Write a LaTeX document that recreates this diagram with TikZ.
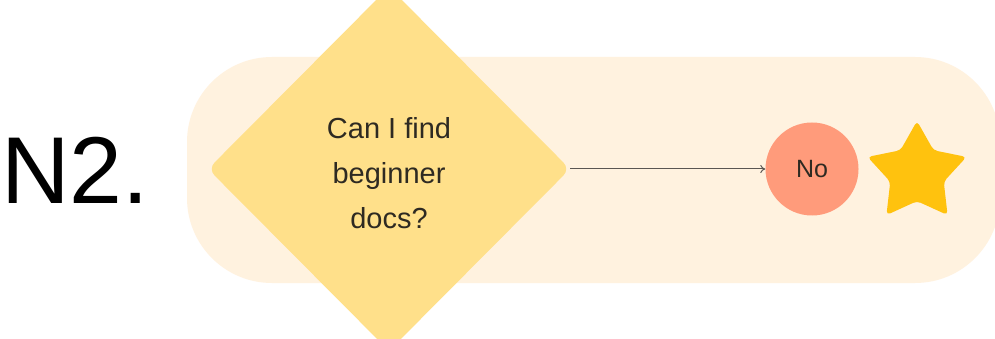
\documentclass[tikz,border=0pt]{standalone}
\usepackage{fontspec}
\setmainfont{Liberation Sans}
\usetikzlibrary{shapes.geometric,arrows.meta}
\definecolor{bgband}{HTML}{FFF2DF}
\definecolor{dfill}{HTML}{FFE08A}
\definecolor{nofill}{HTML}{FF9B7B}
\definecolor{starfill}{HTML}{FFC20E}
\definecolor{txt}{HTML}{2E2A22}
\definecolor{arr}{HTML}{5A5652}
\tikzset{
  band/.style={fill=bgband, draw=none, rounded corners=85pt},
  decision/.style={diamond, fill=dfill, draw=none, minimum width=362pt, minimum height=364pt, inner sep=0pt, rounded corners=9pt},
  qtext/.style={align=center, text=txt, font=\fontsize{29}{45}\selectfont, inner sep=0pt},
  answer/.style={circle, fill=nofill, draw=none, minimum size=93pt, inner sep=0pt, text=txt, font=\fontsize{25}{30}\selectfont},
  badge/.style={star, star points=5, star point ratio=1.85, fill=starfill, draw=none, minimum size=104pt, inner sep=0pt, rounded corners=4pt},
  label/.style={text=black, font=\fontsize{95}{100}\selectfont, inner sep=0pt},
  conn/.style={draw=arr, line width=1pt, -{To[length=5pt,width=8pt]}}
}
\begin{document}
\begin{tikzpicture}[x=1pt,y=-1pt]
\useasboundingbox (0,0) rectangle (995,339);
\fill[white] (0,0) rectangle (995,339);
\fill[band] (187,57) rectangle (1000,283);
\node[label, anchor=base west] (title) at (1,204) {N2.};
\node[decision] (q) at (389,169) {};
\node[qtext] (qt) at (389,173) {Can I find\\beginner\\docs?};
\node[answer] (no) at (812,169) {No};
\node[badge] (st) at (917,173) {};
\draw[conn] (q.east) -- (no.west);
\end{tikzpicture}
\end{document}
